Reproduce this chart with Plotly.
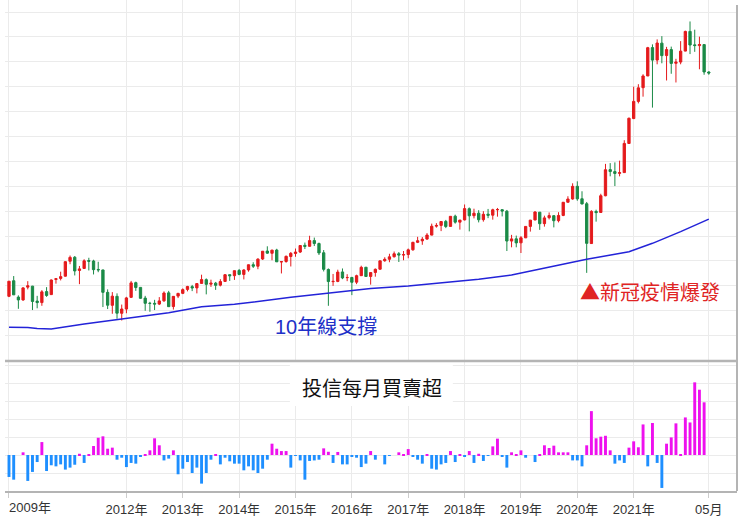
import pandas as pd
import plotly.graph_objects as go

# monthly candles, 2009-12 .. 2022-05
months = pd.date_range("2009-12-01", periods=150, freq="MS").strftime("%Y-%m").tolist()

open_ = [
    7582,
    8207, 7550, 7436, 7950, 7990, 7390, 7329, 7770, 7650, 8260, 8300, 8390,
    8990, 9150, 8620, 8700, 9020, 9000, 8660, 8640, 7740, 7220, 7580, 6900,
    7070, 7540, 8130, 7940, 7510, 7300, 7300, 7270, 7400, 7720, 7170, 7590,
    7700, 7860, 7970, 7920, 8100, 8250, 8070, 8110, 8030, 8180, 8450, 8410,
    8620, 8460, 8640, 8850, 8790, 9080, 9400, 9310, 9440, 8960, 8980, 9180,
    9300, 9360, 9630, 9590, 9820, 9700, 9330, 8660, 8170, 8180, 8560, 8330,
    8340, 8150, 8410, 8750, 8380, 8540, 8670, 9010, 9070, 9170, 9290, 9240,
    9260, 9450, 9750, 9810, 9880, 10040, 10400, 10430, 10590, 10390, 10800, 10560,
    10650, 11100, 10820, 10920, 10660, 10880, 10840, 11060, 11060, 11000, 9800, 9890,
    9730, 9930, 10390, 10650, 10960, 10500, 10740, 10820, 10620, 10830, 11360, 11490,
    12000, 11500, 11300, 9700, 10990, 10950, 11620, 12670, 12590, 12520, 12550, 13720,
    14720, 15410, 15960, 16430, 17570, 17070, 17750, 17250, 17490, 16940, 16990, 17430,
    18220, 17680, 17650, 17690, 16590,
]
high = [
    8188,
    8395, 7620, 7950, 8190, 8000, 7600, 7830, 7950, 8260, 8300, 8570, 8990,
    9220, 9200, 8800, 9070, 9130, 9050, 8970, 8650, 7860, 7750, 7700, 7250,
    7560, 8200, 8170, 7940, 7600, 7360, 7440, 7550, 7780, 7800, 7590, 7720,
    7900, 8000, 8040, 8110, 8450, 8300, 8250, 8160, 8270, 8470, 8460, 8620,
    8680, 8670, 8860, 8950, 9110, 9400, 9590, 9450, 9490, 9000, 9220, 9360,
    9500, 9620, 9740, 10014, 9940, 9740, 9440, 8700, 8480, 8650, 8700, 8470,
    8360, 8450, 8810, 8760, 8540, 8700, 9010, 9150, 9290, 9380, 9360, 9400,
    9500, 9770, 9970, 9960, 10120, 10500, 10520, 10590, 10650, 10800, 10860, 10650,
    11270, 11150, 11100, 11040, 11000, 11090, 11100, 11130, 11080, 11050, 10050, 10020,
    10000, 10390, 10650, 11000, 10970, 10820, 10950, 10830, 10960, 11370, 11600, 12120,
    12200, 11800, 11370, 11040, 11060, 11700, 12900, 12930, 12960, 13030, 13850, 14760,
    16000, 16100, 16500, 17600, 17700, 17900, 18030, 17600, 17610, 17120, 17830, 18250,
    18620, 18290, 18010, 17700, 16620,
]
low = [
    7550,
    7640, 7080, 7400, 7860, 7030, 7100, 7200, 7560, 7640, 8090, 8220, 8370,
    8870, 8420, 8070, 8680, 8620, 8460, 8550, 7150, 7070, 6880, 6680, 6610,
    6900, 7520, 7800, 7480, 7000, 6960, 7030, 7230, 7360, 7160, 7050, 7510,
    7670, 7780, 7790, 7700, 8090, 7660, 7960, 7840, 7980, 8160, 8200, 8240,
    8430, 8260, 8570, 8720, 8670, 9040, 9290, 9030, 8960, 8500, 8930, 8780,
    9170, 9320, 9480, 9580, 9600, 9240, 8580, 7200, 8000, 8150, 8270, 8190,
    7630, 8070, 8400, 8370, 8050, 8370, 8650, 8970, 8950, 9140, 8960, 9030,
    9110, 9410, 9720, 9650, 9850, 10030, 10340, 10200, 10320, 10380, 10500, 10260,
    10630, 10190, 10710, 10550, 10580, 10720, 10660, 10780, 10790, 9400, 9550, 9550,
    9320, 9920, 10180, 10630, 10250, 10380, 10670, 10350, 10550, 10800, 11350, 11460,
    11420, 11270, 8523, 9690, 10580, 10940, 11600, 12400, 12010, 12400, 12550, 13710,
    14700, 15330, 15600, 16430, 15160, 16900, 16940, 16250, 16520, 16170, 16900, 17420,
    17310, 17400, 16700, 16480, 16480,
]
close = [
    8188,
    7640, 7436, 7920, 8004, 7374, 7329, 7760, 7616, 8237, 8287, 8372, 8972,
    9145, 8600, 8683, 9007, 8988, 8652, 8644, 7741, 7225, 7588, 6904, 7072,
    7517, 8121, 7933, 7501, 7301, 7296, 7270, 7397, 7715, 7166, 7580, 7699,
    7850, 7977, 7918, 8093, 8254, 8062, 8107, 8022, 8173, 8450, 8407, 8611,
    8462, 8639, 8849, 8791, 9075, 9393, 9315, 9436, 8966, 8974, 9187, 9307,
    9361, 9622, 9586, 9820, 9701, 9323, 8665, 8174, 8181, 8554, 8320, 8338,
    8145, 8411, 8745, 8377, 8535, 8666, 9007, 9069, 9167, 9290, 9240, 9254,
    9448, 9750, 9812, 9872, 10041, 10395, 10427, 10586, 10384, 10794, 10560, 10643,
    11104, 10815, 10919, 10657, 10875, 10837, 11057, 11064, 11006, 9802, 9888, 9727,
    9932, 10389, 10641, 10968, 10498, 10731, 10824, 10618, 10830, 11358, 11489, 11997,
    11495, 11292, 9708, 10992, 10943, 11621, 12665, 12592, 12516, 12546, 13722, 14733,
    15410, 15953, 16431, 17567, 17068, 17755, 17247, 17490, 16935, 16987, 17428, 18219,
    17674, 17652, 17693, 16592, 16550,
]

# 10-year moving average, read at these month positions
ma_idx = [0, 4, 6, 9, 16, 25, 34, 41, 48, 60, 67, 77, 85, 92, 100, 107, 115, 123, 132, 137, 143, 149]
ma_values = [6340, 6330, 6290, 6270, 6470, 6700, 6925, 7165, 7260, 7540, 7700, 7900,
             8000, 8130, 8265, 8440, 8770, 9070, 9370, 9710, 10180, 10680]

# investment trust monthly net buy / sell
flows = [
    -122,
    -137, 0, 15, -144, -94, -39, 72, -89, -57, -63, -52, -81,
    -70, -54, 7, -44, 5, 50, 96, 104, 35, 41, -26, -15,
    -67, -44, -48, -11, 5, 26, 93, 54, -30, -20, 26, -107,
    -76, -39, -100, -70, -159, -100, -26, 5, -52, -15, -35, -48,
    -48, -85, -63, -85, -100, -76, -26, 63, 35, 22, 22, -70,
    -5, -30, -137, -33, -30, -26, 37, 18, -44, 17, -52, -52,
    -11, -15, -67, -48, 22, -26, 0, -52, -4, 0, 15, 3,
    33, -11, -26, -48, 5, -76, -81, -52, -44, 22, -39, 4,
    -11, 22, -44, 7, -33, -5, 48, 91, -11, -70, 15, 5,
    26, -15, 0, -39, 5, 54, 39, 52, 15, 15, 15, -30,
    -30, -63, 54, 244, 93, 102, 107, 26, -48, -30, -44, 41,
    76, 43, 170, -63, 178, -44, -183, 63, 98, 176, 2, 209,
    181, 404, 363, 293, 0,
]

tick_months = ["2009-12", "2012-01", "2013-01", "2014-01", "2015-01", "2016-01",
               "2017-01", "2018-01", "2019-01", "2020-01", "2021-01", "2022-05"]
tick_text = ["", "2012年", "2013年", "2014年", "2015年", "2016年",
             "2017年", "2018年", "2019年", "2020年", "2021年", "05月"]

FONT = "Liberation Sans, Noto Sans CJK TC, sans-serif"
CJK = "Noto Sans CJK TC, sans-serif"
RED = "#e41a1c"
GREEN = "#1b8a47"
GRID = "#ebebeb"
EDGE = "#b4b4b4"

fig = go.Figure()

fig.add_trace(
    go.Candlestick(
        x=months, open=open_, high=high, low=low, close=close,
        increasing=dict(line=dict(color=RED, width=1), fillcolor=RED),
        decreasing=dict(line=dict(color=GREEN, width=1), fillcolor=GREEN),
        whiskerwidth=0,
        xaxis="x", yaxis="y",
    )
)
fig.add_trace(
    go.Scatter(
        x=[months[i] for i in ma_idx], y=ma_values, mode="lines",
        line=dict(color="#2323d8", width=1.5),
        xaxis="x", yaxis="y",
    )
)
fig.add_trace(
    go.Bar(
        x=months, y=flows,
        marker=dict(color=["#ee11ee" if v >= 0 else "#1e8fff" for v in flows], line=dict(width=0)),
        width=0.62,
        xaxis="x2", yaxis="y2",
    )
)

xcommon = dict(
    type="category", range=[-0.85, 155], tickmode="array",
    tickvals=tick_months, showgrid=True, gridcolor=GRID, gridwidth=1,
    zeroline=False, fixedrange=True,
)

fig.update_layout(
    width=739, height=519,
    margin=dict(l=5, r=2, t=0, b=28),
    paper_bgcolor="white", plot_bgcolor="white",
    showlegend=False,
    font=dict(family=FONT, color="#333333"),
    boxgap=0.3,
    xaxis=dict(xcommon, anchor="y", showticklabels=False, rangeslider=dict(visible=False)),
    yaxis=dict(domain=[0.2656, 1], range=[5000, 19482], dtick=1000, tick0=0,
               showticklabels=False, gridcolor=GRID, zeroline=False),
    xaxis2=dict(xcommon, anchor="y2", ticktext=tick_text, showline=True,
                linecolor=EDGE, linewidth=2, ticks="outside", ticklen=5,
                tickcolor="#cccccc", tickfont=dict(size=13, color="#333333")),
    yaxis2=dict(domain=[0, 0.2627], range=[-200, 517], dtick=100, tick0=0,
                showticklabels=False, gridcolor=GRID, zeroline=False),
)

# panel borders and the white label box of the lower panel
fig.add_shape(type="line", xref="paper", yref="paper", x0=0, x1=1, y0=0.2648, y1=0.2648,
              line=dict(color=EDGE, width=2.5))
fig.add_shape(type="line", xref="paper", yref="paper", x0=1, x1=1, y0=0, y1=0.99,
              line=dict(color=EDGE, width=2))
fig.add_shape(type="rect", xref="x2", yref="y2", x0=59.8, x1=94.5, y0=272, y1=517,
              fillcolor="white", line=dict(width=0), layer="between")

fig.add_annotation(x=77.3, y=375, xref="x2", yref="y2", text="投信每月買賣超",
                   showarrow=False, font=dict(size=20, color="#111111", family=CJK))
fig.add_annotation(x=67.5, y=6369, xref="x", yref="y", text="10年線支撐",
                   showarrow=False, font=dict(size=20, color="#2030c8"))
fig.add_annotation(x=121.2, y=7755, xref="x", yref="y", text="▲新冠疫情爆發",
                   xanchor="left", showarrow=False, font=dict(size=20, color="#e02424", family=CJK))
fig.add_annotation(x=0.0027, y=-0.0326, xref="paper", yref="paper", text="2009年",
                   xanchor="left", yanchor="middle", showarrow=False,
                   font=dict(size=13, color="#333333"))

# drop the page's default body margin so the figure sits at the window's corner
fig.write_html("out.html", config={"displayModeBar": False},
               post_script="document.body.style.margin='0';")
